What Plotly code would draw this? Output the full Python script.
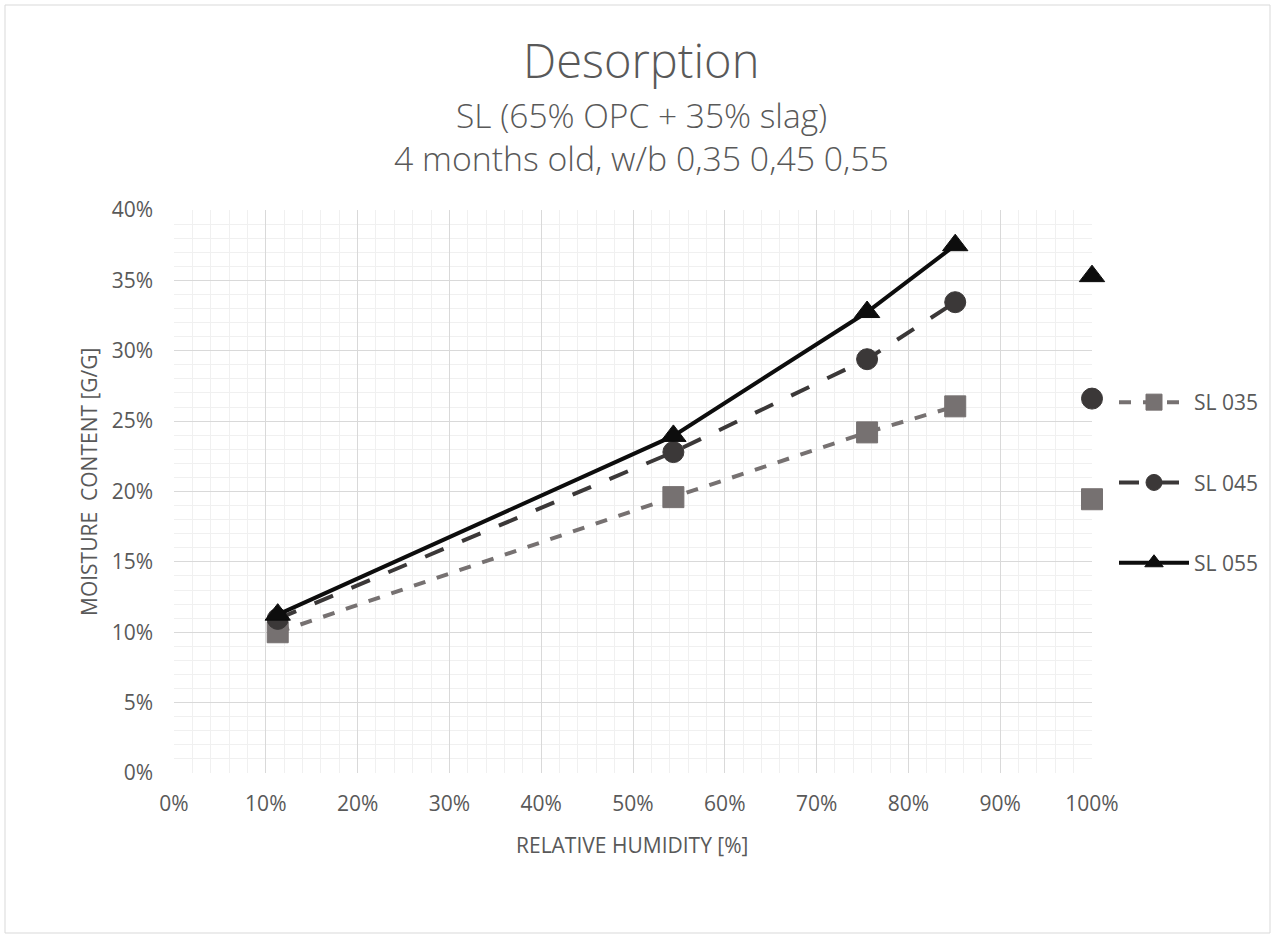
import plotly.graph_objects as go

rh = [11.3, 54.4, 75.5, 85.1]
sl035 = [10.0, 19.6, 24.2, 26.05]
sl045 = [10.95, 22.8, 29.4, 33.45]
sl055 = [11.25, 23.95, 32.75, 37.5]
rh_sat = [100]
sl035_sat = [19.45]
sl045_sat = [26.6]
sl055_sat = [35.3]

names = ["SL 035", "SL 045", "SL 055"]
colors = ["#767171", "#3b3838", "#0d0d0d"]
dashes = ["dash", "longdash", "solid"]
symbols = ["square", "circle", "triangle-up"]
series = [sl035, sl045, sl055]
sats = [sl035_sat, sl045_sat, sl055_sat]
msizes = [21, 21, 22]

FONT = "Open Sans, Segoe UI, sans-serif"
TXT = "#595959"

fig = go.Figure()
for i in range(3):
    fig.add_trace(go.Scatter(
        x=[v / 100 for v in rh], y=[v / 100 for v in series[i]], name=names[i],
        mode="lines+markers", legendgroup=names[i], cliponaxis=False,
        line=dict(color=colors[i], width=4, dash=dashes[i]),
        marker=dict(symbol=symbols[i], size=msizes[i],
                    color=colors[i], line=dict(color=colors[i], width=1)),
    ))
for i in range(3):
    fig.add_trace(go.Scatter(
        x=[v / 100 for v in rh_sat], y=[v / 100 for v in sats[i]], mode="markers",
        showlegend=False, cliponaxis=False,
        marker=dict(symbol=symbols[i], size=msizes[i],
                    color=colors[i], line=dict(color=colors[i], width=1)),
    ))

W, H = 1275, 938
L, R, T, B = 174, 1092, 210, 773

def px_x(p):
    return (p - L) / (R - L)

def px_y(p):
    return (B - p) / (B - T)

titles = [("Desorption", 47, 60), ("SL (65% OPC + 35% slag)", 33.5, 115),
          ("4 months old, w/b 0,35 0,45 0,55", 33.8, 158)]
annotations = [dict(text=t, x=px_x(641), y=px_y(yc), xref="paper", yref="paper",
                    xanchor="center", yanchor="middle", showarrow=False,
                    font=dict(size=s, color=TXT, family=FONT, weight=300)) for t, s, yc in titles]
annotations.append(dict(text="RELATIVE HUMIDITY [%]", x=px_x(632), y=px_y(845),
                        xref="paper", yref="paper", xanchor="center", yanchor="middle",
                        showarrow=False, font=dict(size=21, color=TXT, family=FONT)))
annotations.append(dict(text="MOISTURE  CONTENT [G/G]", x=px_x(89), y=px_y(482),
                        xref="paper", yref="paper", xanchor="center", yanchor="middle",
                        textangle=-90, showarrow=False,
                        font=dict(size=21, color=TXT, family=FONT)))

fig.update_layout(
    width=W, height=H,
    margin=dict(l=L, r=W - R, t=T, b=H - B),
    paper_bgcolor="white", plot_bgcolor="white",
    font=dict(family=FONT, color=TXT, size=20),
    annotations=annotations,
    xaxis=dict(
        range=[0, 1], dtick=0.1, tickformat=".0%", showgrid=True,
        gridcolor="#d9d9d9", gridwidth=1, zeroline=False, showline=False,
        ticks="", tickfont=dict(size=21, color=TXT), ticklabelstandoff=16,
        minor=dict(dtick=0.02, showgrid=True, gridcolor="#f0f0f0", gridwidth=1),
    ),
    yaxis=dict(
        range=[0, 0.4], dtick=0.05, tickformat=".0%", showgrid=True,
        gridcolor="#d9d9d9", gridwidth=1, zeroline=False, showline=False,
        ticks="", tickfont=dict(size=21, color=TXT), ticklabelstandoff=20,
        minor=dict(dtick=0.01, showgrid=True, gridcolor="#f0f0f0", gridwidth=1),
    ),
    legend=dict(
        x=px_x(1114), xanchor="left", y=px_y(382), yanchor="top",
        font=dict(size=21, color=TXT, family=FONT), tracegroupgap=50,
        itemwidth=70, bgcolor="rgba(0,0,0,0)",
    ),
    showlegend=True,
)

fig.add_shape(type="rect", xref="paper", yref="paper",
              x0=px_x(5), x1=px_x(1270), y0=px_y(933), y1=px_y(5),
              line=dict(color="#d9d9d9", width=1), layer="below")

fig.write_html("out.html")
